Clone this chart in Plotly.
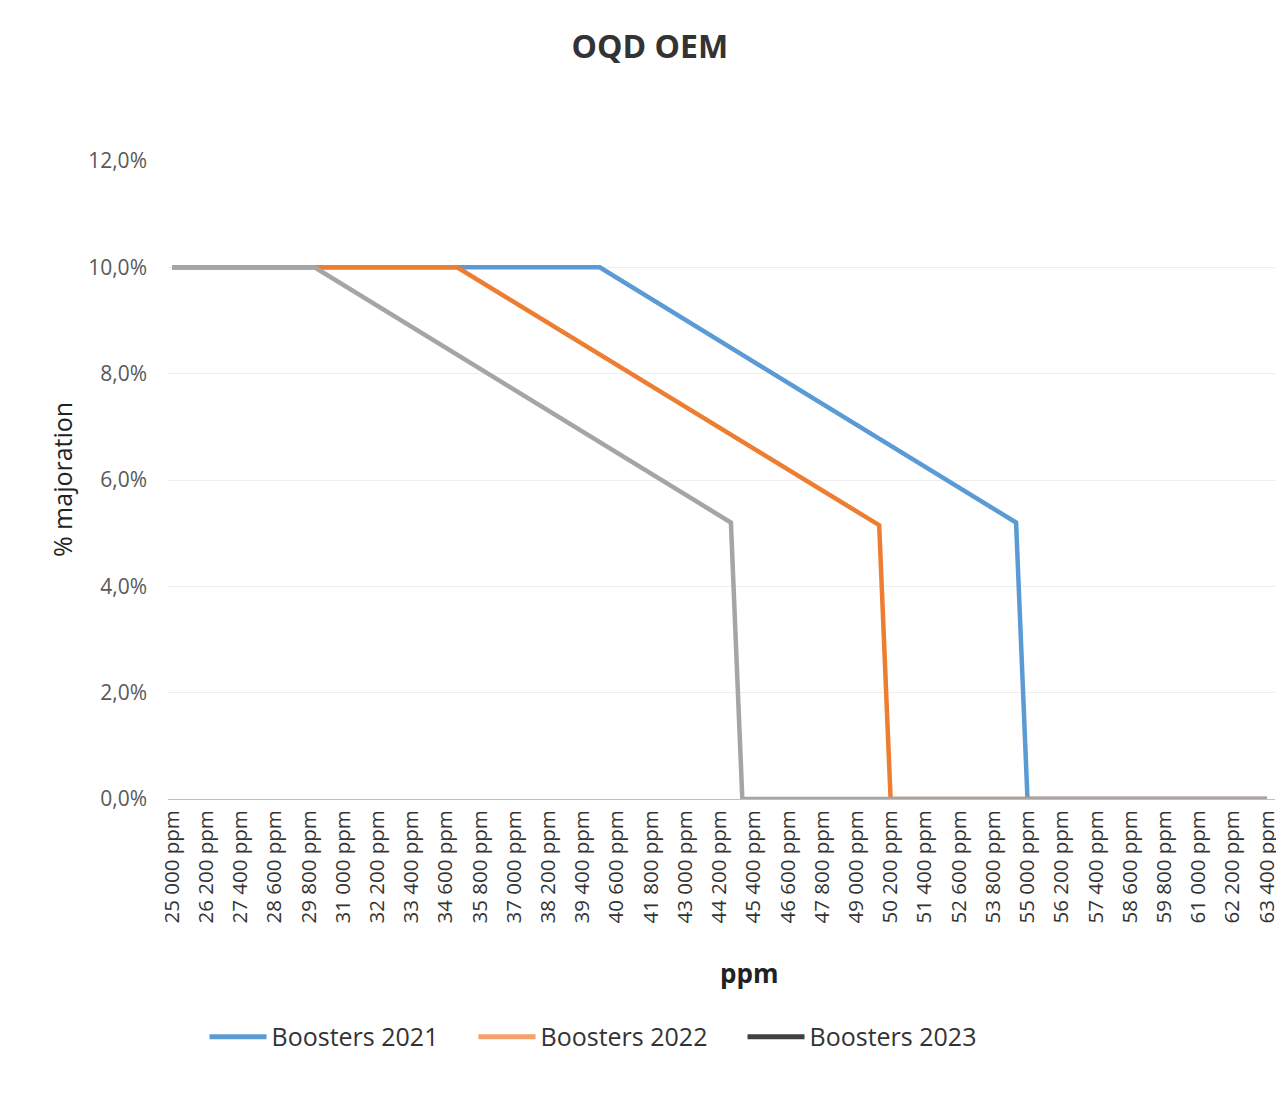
import plotly.graph_objects as go

# breakpoints (ppm, % majoration as a fraction)
ppm_2021 = [25000, 40000, 54600, 55000, 63400]
pct_2021 = [0.100, 0.100, 0.052, 0.0, 0.0]
ppm_2022 = [25000, 35000, 49800, 50200, 63400]
pct_2022 = [0.100, 0.100, 0.0515, 0.0, 0.0]
ppm_2023 = [25000, 30000, 44600, 45000, 63400]
pct_2023 = [0.100, 0.100, 0.052, 0.0, 0.0]

tick_vals = list(range(25000, 63401, 1200))
tick_text = [f"{v:,} ppm".replace(",", " ") for v in tick_vals]

series = [
    ("Boosters 2021", ppm_2021, pct_2021, "#5B9BD5", "#5B9BD5"),
    ("Boosters 2022", ppm_2022, pct_2022, "#ED7D31", "#F4A06A"),
    ("Boosters 2023", ppm_2023, pct_2023, "#A5A5A5", "#404040"),
]

fig = go.Figure()
for name, x, y, col, legcol in series:
    fig.add_trace(go.Scatter(x=x, y=y, mode="lines", name=name, showlegend=False,
                             line=dict(color=col, width=4.5)))
# legend entries (the legend swatches use slightly different shades)
for name, x, y, col, legcol in series:
    fig.add_trace(go.Scatter(x=[None], y=[None], mode="lines", name=name,
                             line=dict(color=legcol, width=5)))

font = "Open Sans, DejaVu Sans, sans-serif"
fig.update_layout(
    width=1276, height=1086,
    margin=dict(l=160, r=9, t=153, b=295),
    paper_bgcolor="white", plot_bgcolor="white",
    separators=", ",
    font=dict(family=font, color="#404040"),
    title=dict(text="<b>OQD OEM</b>", x=0.503, xanchor="center", y=0.964, yanchor="middle",
               font=dict(size=32, color="#333333")),
    showlegend=True,
    legend=dict(orientation="h", x=0.033, xanchor="left", y=-0.373, yanchor="middle",
                font=dict(size=25, color="#333333"), entrywidth=197,
                itemwidth=57),
)
fig.update_xaxes(range=[24860, 63680], tickvals=tick_vals, ticktext=tick_text,
                 tickangle=-90, tickfont=dict(size=20.5, color="#333333"),
                 showgrid=False, zeroline=False, showline=True, linecolor="#BFBFBF",
                 ticks="", ticklabelstandoff=2, automargin=False,
                 ticklabeloverflow="allow")
fig.update_yaxes(range=[0, 0.12], dtick=0.02, tickformat=".1%",
                 tickfont=dict(size=21, color="#595959"),
                 showgrid=True, gridcolor="#EDEDED", zeroline=False, showline=False,
                 ticks="", ticklabelstandoff=20, automargin=False)

fig.add_annotation(text="% majoration", x=-0.0957, xref="paper", xanchor="center",
                   y=0.5, yref="paper", textangle=-90, showarrow=False,
                   font=dict(size=25, color="#222222"))
fig.add_annotation(text="<b>ppm</b>", x=0.525, xref="paper", y=-0.304, yref="paper",
                   showarrow=False, font=dict(size=26, color="#222222"))

fig.write_html("out.html")
